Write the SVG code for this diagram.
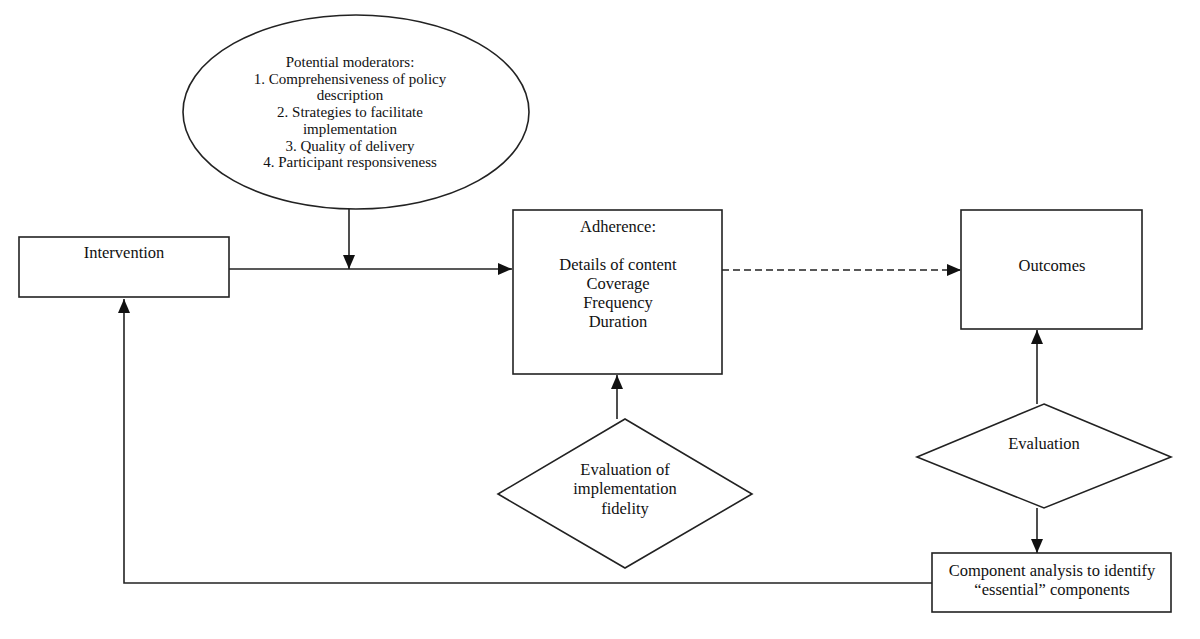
<svg xmlns="http://www.w3.org/2000/svg" width="1200" height="639" viewBox="0 0 1200 639">
<style>
.s{fill:#fff;stroke:#222;stroke-width:1.6}
.t{font-family:"Liberation Serif","Times New Roman",serif;font-size:16.5px;fill:#111;text-anchor:middle}
.m{font-size:15px}
.c{fill:none;stroke:#222;stroke-width:1.6}
.d{stroke-dasharray:7 4}
</style>
<defs>
<marker id="a" markerWidth="14" markerHeight="12" refX="14" refY="6" orient="auto" markerUnits="userSpaceOnUse">
<path d="M0,0 L14,6 L0,12 Z" fill="#111"/>
</marker>
</defs>
<rect width="1200" height="639" fill="#fff"/>
<g id="connectors">
<path class="c" d="M229,269 H512" marker-end="url(#a)"/>
<path class="c" d="M349,209 V269" marker-end="url(#a)"/>
<path class="c d" d="M722,270 H961" marker-end="url(#a)"/>
<path class="c" d="M617,419 V375" marker-end="url(#a)"/>
<path class="c" d="M1037,404 V330" marker-end="url(#a)"/>
<path class="c" d="M1037,508 V553" marker-end="url(#a)"/>
<path class="c" d="M932,583 H124 V299" marker-end="url(#a)"/>
</g>
<g id="moderators">
<ellipse class="s" cx="356" cy="112" rx="173" ry="97"/>
<text class="t m" x="350" y="67">Potential moderators:</text>
<text class="t m" x="350" y="83.7">1. Comprehensiveness of policy</text>
<text class="t m" x="350" y="100.4">description</text>
<text class="t m" x="350" y="117.1">2. Strategies to facilitate</text>
<text class="t m" x="350" y="133.8">implementation</text>
<text class="t m" x="350" y="150.5">3. Quality of delivery</text>
<text class="t m" x="350" y="167.2">4. Participant responsiveness</text>
</g>
<g id="intervention">
<rect class="s" x="19" y="237" width="210" height="60"/>
<text class="t" x="124" y="258">Intervention</text>
</g>
<g id="adherence">
<rect class="s" x="513" y="210" width="209" height="164"/>
<text class="t" x="618" y="232">Adherence:</text>
<text class="t" x="618" y="270">Details of content</text>
<text class="t" x="618" y="289">Coverage</text>
<text class="t" x="618" y="308">Frequency</text>
<text class="t" x="618" y="327">Duration</text>
</g>
<g id="outcomes">
<rect class="s" x="961" y="210" width="181" height="119"/>
<text class="t" x="1052" y="271">Outcomes</text>
</g>
<g id="fidelity">
<polygon class="s" points="625,419 752,494 625,568 498,494"/>
<text class="t" x="625" y="475">Evaluation of</text>
<text class="t" x="625" y="494">implementation</text>
<text class="t" x="625" y="514">fidelity</text>
</g>
<g id="evaluation">
<polygon class="s" points="1044,404 1171,457 1044,508 917,457"/>
<text class="t" x="1044" y="449">Evaluation</text>
</g>
<g id="component">
<rect class="s" x="932" y="553" width="239" height="59"/>
<text class="t" x="1052" y="576">Component analysis to identify</text>
<text class="t" x="1052" y="595">“essential” components</text>
</g>
</svg>
